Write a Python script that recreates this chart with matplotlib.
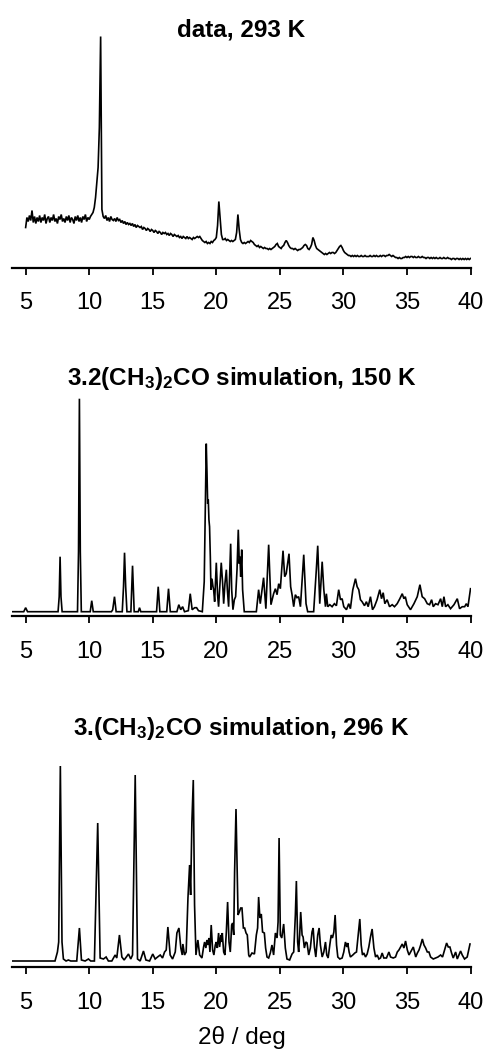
import numpy as np
import matplotlib
matplotlib.use("Agg")
import matplotlib.pyplot as plt

plt.rcParams['font.family'] = ['Liberation Sans', 'DejaVu Sans']
plt.rcParams['mathtext.fontset'] = 'custom'
plt.rcParams['mathtext.rm'] = 'Liberation Sans'
plt.rcParams['mathtext.bf'] = 'Liberation Sans:bold'
plt.rcParams['mathtext.default'] = 'bf'

# ---------------------------------------------------------------- data
tick_values = [5, 10, 15, 20, 25, 30, 35, 40]

titles = [
    "data, 293 K",
    "3.2(CH$_3$)$_2$CO simulation, 150 K",
    "3.(CH$_3$)$_2$CO simulation, 296 K",
]

# measured powder pattern, 0.1 deg steps from 5 to 40 deg
scan_start, scan_step = 5.0, 0.1
scan_counts = [
    40, 50, 46, 52, 47, 57, 45, 51, 44, 50,
    46, 52, 45, 50, 47, 53, 44, 49, 51, 45,
    50, 47, 53, 46, 49, 44, 51, 48, 53, 46,
    49, 45, 51, 47, 52, 45, 50, 48, 44, 51,
    47, 52, 46, 50, 45, 51, 48, 53, 46, 50,
    48, 51, 53, 55, 60, 70, 85, 100, 140, 231,
    58, 51, 49, 52, 47, 50, 46, 51, 48, 47,
    49, 46, 50, 47, 48, 45, 47, 44, 46, 43,
    45, 43, 44, 42, 44, 41, 43, 40, 42, 41,
    40, 41, 38, 40, 39, 37, 39, 38, 36, 38,
    37, 35, 37, 36, 34, 36, 35, 33, 35, 34,
    35, 33, 34, 32, 34, 33, 31, 33, 32, 31,
    32, 30, 31, 29, 31, 30, 29, 31, 29, 30,
    29, 28, 30, 29, 30, 31, 30, 31, 29, 27,
    26, 25, 26, 24, 25, 24, 26, 25, 27, 28,
    30, 42, 66, 50, 33, 28, 28, 29, 27, 28,
    27, 26, 27, 26, 27, 28, 35, 53, 38, 28,
    25, 24, 25, 24, 25, 26, 25, 27, 26, 25,
    23, 22, 21, 22, 20, 21, 20, 19, 20, 19,
    19, 18, 19, 18, 19, 20, 21, 23, 24, 21,
    20, 19, 21, 22, 25, 27, 25, 22, 20, 19,
    19, 18, 19, 18, 17, 18, 18, 19, 20, 22,
    23, 22, 19, 18, 20, 23, 30, 27, 22, 19,
    18, 17, 16, 15, 14, 13, 14, 13, 14, 15,
    14, 15, 15, 14, 15, 17, 19, 21, 22, 20,
    17, 15, 14, 13, 12, 12, 11, 12, 11, 12,
    11, 12, 11, 11, 12, 11, 11, 12, 11, 11,
    11, 12, 11, 11, 12, 11, 12, 11, 11, 12,
    11, 12, 12, 11, 12, 12, 13, 12, 11, 12,
    11, 10, 10, 9, 10, 9, 9, 10, 10, 11,
    10, 11, 10, 11, 11, 10, 11, 10, 10, 11,
    10, 10, 11, 10, 10, 9, 10, 10, 9, 10,
    9, 10, 9, 10, 9, 9, 10, 9, 9, 10,
    9, 9, 10, 9, 9, 8, 9, 9, 8, 9,
    9, 8, 9, 8, 9, 8, 9, 8, 9, 8,
    9,
]

# simulated pattern at 150 K (profile vertices)
sim150_theta = [
    3.95, 4.85, 5.0, 5.15,
    7.55, 7.64, 7.71, 7.78, 7.87,
    9.08, 9.16, 9.23, 9.30, 9.38,
    10.08, 10.2, 10.32,
    11.75, 11.85, 11.99, 12.12,
    12.6, 12.7, 12.78, 12.87, 12.97,
    13.28, 13.41, 13.54,
    13.86, 13.96, 14.06,
    15.3, 15.43, 15.56,
    16.1, 16.24, 16.38,
    16.9, 17.05, 17.2, 17.35, 17.5,
    17.8, 17.95, 18.1, 18.3, 18.45, 18.6, 18.9,
    19.05, 19.21, 19.27, 19.32, 19.37, 19.42, 19.47, 19.53, 19.58, 19.66,
    19.74, 19.79, 19.87, 20.0, 20.1, 20.18, 20.26, 20.39, 20.5, 20.58,
    20.68, 20.79, 20.87, 20.97, 21.05, 21.13, 21.21, 21.31, 21.42, 21.52,
    21.63, 21.73, 21.81, 21.86, 21.92, 22.0, 22.07, 22.2,
    23.15, 23.33, 23.46, 23.72, 23.9, 24.12, 24.3, 24.51, 24.65, 24.78,
    24.91, 25.04, 25.25, 25.38, 25.5, 25.72, 25.85, 25.96, 26.09, 26.22,
    26.35, 26.48, 26.62, 26.88, 27.06, 27.19, 27.66, 27.87, 27.98, 28.14,
    28.33, 28.46, 28.59, 28.66, 28.77, 28.93, 29.11, 29.29, 29.45, 29.63,
    29.77, 29.9, 30.03, 30.24, 30.42, 30.55, 30.74, 30.95, 31.08, 31.21,
    31.34, 31.47, 31.66, 31.81, 31.95, 32.13, 32.29, 32.44, 32.65, 32.86,
    33.0, 33.13, 33.26, 33.44, 33.63, 33.84, 34.02, 34.23, 34.44, 34.63,
    34.76, 34.87, 35.02, 35.28, 35.55, 35.81, 36.02, 36.2, 36.39, 36.6,
    36.78, 36.94, 37.07, 37.25, 37.44, 37.65, 37.78, 37.91, 38.04, 38.22,
    38.43, 38.7, 38.96, 39.14, 39.35, 39.54, 39.67, 39.8, 40.0,
]
sim150_counts = [
    0, 0, 4, 0,
    0, 15, 55, 15, 0,
    0, 60, 213, 60, 0,
    0, 11, 0,
    0, 2, 15, 0,
    0, 25, 59, 25, 0,
    0, 46, 0,
    0, 4, 0,
    0, 25, 0,
    0, 23, 0,
    0, 7, 2, 5, 0,
    1, 18, 2, 4, 4, 1, 0,
    30, 168, 138, 108, 112, 92, 85, 55, 22, 33,
    25, 22, 10, 49, 17, 5, 22, 49, 28, 8,
    28, 42, 22, 5, 35, 68, 22, 2, 12, 15,
    42, 82, 48, 55, 35, 62, 22, 0,
    0, 22, 8, 34, 3, 67, 7, 18, 23, 17,
    28, 23, 61, 35, 38, 58, 25, 17, 5, 17,
    14, 15, 5, 57, 8, 0, 0, 42, 66, 8,
    50, 22, 5, 18, 5, 7, 5, 8, 6, 22,
    12, 13, 5, 2, 8, 3, 22, 33, 25, 22,
    12, 10, 6, 10, 5, 15, 2, 5, 12, 22,
    13, 19, 8, 12, 5, 7, 5, 8, 13, 18,
    13, 15, 7, 2, 8, 15, 27, 15, 13, 8,
    7, 12, 5, 8, 7, 13, 5, 15, 5, 7,
    3, 7, 13, 3, 5, 5, 8, 5, 23,
]

# simulated pattern at 296 K (profile vertices)
sim296_theta = [
    3.95, 7.31, 7.5, 7.6, 7.73, 7.86, 7.97, 8.18, 8.36, 8.55,
    9.02, 9.23, 9.39, 9.68, 9.94, 10.12, 10.41, 10.67, 10.86, 11.12,
    11.33, 11.51, 11.78, 12.04, 12.17, 12.38, 12.57, 12.75, 13.09, 13.27,
    13.41, 13.62, 13.8, 14.01, 14.27, 14.46, 14.75, 15.0, 15.19, 15.38,
    15.59, 15.77, 15.93, 16.06, 16.19, 16.37, 16.56, 16.77, 16.9, 17.06,
    17.21, 17.32, 17.37, 17.5, 17.63, 17.77, 17.9, 17.98, 18.08, 18.19,
    18.29, 18.4, 18.55, 18.69, 18.87, 19.0, 19.08, 19.18, 19.26, 19.34,
    19.42, 19.5, 19.6, 19.71, 19.81, 19.92, 20.0, 20.08, 20.18, 20.26,
    20.37, 20.42, 20.47, 20.58, 20.68, 20.79, 20.89, 21.0, 21.1, 21.21,
    21.29, 21.37, 21.44, 21.55, 21.63, 21.71, 21.81, 21.92, 22.02, 22.13,
    22.23, 22.34, 22.44, 22.55, 22.62, 22.81, 23.0, 23.15, 23.25, 23.33,
    23.43, 23.54, 23.64, 23.78, 23.88, 23.99, 24.12, 24.25, 24.38, 24.51,
    24.65, 24.78, 24.86, 24.94, 25.04, 25.15, 25.3, 25.43, 25.56, 25.77,
    25.96, 26.09, 26.22, 26.3, 26.4, 26.48, 26.56, 26.64, 26.75, 26.83,
    26.93, 27.04, 27.14, 27.27, 27.4, 27.53, 27.62, 27.72, 27.83, 27.98,
    28.09, 28.19, 28.33, 28.46, 28.59, 28.69, 28.8, 28.93, 29.04, 29.14,
    29.25, 29.35, 29.46, 29.56, 29.72, 29.9, 30.03, 30.16, 30.27, 30.34,
    30.45, 30.55, 30.74, 30.9, 31.03, 31.16, 31.29, 31.4, 31.5, 31.61,
    31.74, 31.87, 32.0, 32.13, 32.26, 32.4, 32.53, 32.66, 32.79, 32.92,
    33.05, 33.18, 33.39, 33.58, 33.71, 33.92, 34.1, 34.24, 34.37, 34.5,
    34.63, 34.76, 34.89, 35.03, 35.16, 35.29, 35.5, 35.69, 35.82, 35.95,
    36.08, 36.21, 36.34, 36.47, 36.6, 36.73, 36.86, 37.07, 37.25, 37.44,
    37.65, 37.8, 37.96, 38.12, 38.25, 38.38, 38.51, 38.64, 38.83, 38.96,
    39.09, 39.22, 39.35, 39.53, 39.74, 39.96,
]
sim296_counts = [
    0, 0, 9, 19, 195, 19, 2, 0, 1, 0,
    0, 33, 1, 0, 2, 0, 0, 138, 3, 2,
    4, 0, 0, 6, 3, 26, 4, 1, 7, 2,
    6, 186, 2, 0, 10, 1, 0, 7, 2, 4,
    6, 3, 9, 11, 34, 6, 2, 9, 28, 33,
    13, 6, 17, 6, 9, 63, 96, 66, 139, 181,
    56, 6, 21, 6, 3, 14, 19, 13, 21, 16,
    23, 9, 36, 11, 6, 16, 19, 13, 28, 14,
    26, 19, 28, 9, 6, 29, 59, 19, 9, 36,
    38, 26, 89, 152, 96, 46, 49, 53, 53, 33,
    33, 28, 26, 6, 4, 8, 7, 26, 33, 64,
    43, 47, 29, 28, 13, 4, 3, 8, 16, 6,
    28, 23, 39, 123, 26, 23, 37, 13, 2, 1,
    7, 9, 46, 80, 19, 9, 26, 49, 26, 24,
    13, 19, 18, 6, 13, 29, 33, 14, 4, 26,
    33, 16, 4, 9, 19, 6, 3, 16, 26, 23,
    29, 46, 16, 4, 2, 3, 9, 19, 14, 18,
    9, 4, 6, 8, 9, 26, 42, 16, 6, 8,
    4, 7, 14, 24, 32, 13, 4, 6, 2, 3,
    8, 3, 3, 9, 4, 3, 4, 9, 11, 14,
    17, 13, 20, 11, 6, 9, 14, 4, 8, 11,
    16, 22, 16, 13, 9, 9, 4, 2, 3, 4,
    6, 4, 11, 18, 14, 14, 8, 3, 9, 2,
    6, 10, 6, 2, 4, 17,
]

assert len(scan_counts) == 351
assert len(sim150_theta) == len(sim150_counts)
assert len(sim296_theta) == len(sim296_counts)

scan_theta = scan_start + scan_step * np.arange(len(scan_counts))

# ---------------------------------------------------------------- figure
W_PX, H_PX = 487, 1050
fig = plt.figure(figsize=(W_PX / 100, H_PX / 100), dpi=100)

x_left_px, x_width_px = 12.3, 458.2
xlim = (3.95, 40.0)


def make_panel(axis_y_px, ylim):
    span = ylim[1] - ylim[0]
    ax = fig.add_axes([x_left_px / W_PX, 1 - axis_y_px / H_PX,
                       x_width_px / W_PX, span / H_PX])
    ax.set_xlim(*xlim)
    ax.set_ylim(*ylim)
    for side in ("top", "left", "right"):
        ax.spines[side].set_visible(False)
    ax.spines["bottom"].set_linewidth(1.6)
    ax.set_yticks([])
    ax.set_xticks(tick_values)
    ax.tick_params(axis="x", direction="out", length=4.8, width=1.3,
                   labelsize=17, pad=13)
    ax.patch.set_visible(False)
    return ax


line_kw = dict(color="black", lw=1.2, solid_joinstyle="miter")

ax1 = make_panel(267.5, (0, 232))
ax1.plot(scan_theta, scan_counts, **line_kw)

ax2 = make_panel(616.0, (-4.3, 214))
ax2.plot(sim150_theta, sim150_counts, **line_kw)

ax3 = make_panel(967.0, (-6.0, 195.5))
ax3.plot(sim296_theta, sim296_counts, **line_kw)

title_x = 241.5 / W_PX
for txt, base_px in zip(titles, [36.7, 385.0, 735.0]):
    fig.text(title_x, 1 - base_px / H_PX, txt, ha="center", va="baseline",
             fontsize=17.5, fontweight="bold")

fig.text(title_x, 1 - 1044 / H_PX, "2θ / deg", ha="center", va="baseline",
         fontsize=17.5)

fig.savefig("out.png", dpi=100)
